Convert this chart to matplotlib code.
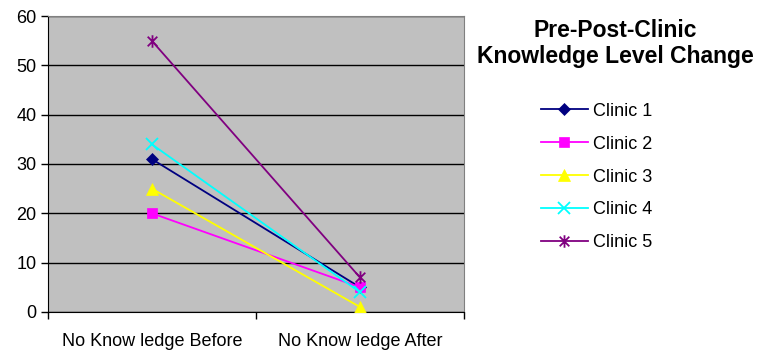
import matplotlib.pyplot as plt
from matplotlib.path import Path

plt.rcParams['font.family'] = ['Liberation Sans', 'DejaVu Sans']

categories = ['No Know ledge Before', 'No Know ledge After']
clinics = ['Clinic 1', 'Clinic 2', 'Clinic 3', 'Clinic 4', 'Clinic 5']
clinic_1 = [31, 5]
clinic_2 = [20, 5]
clinic_3 = [25, 1]
clinic_4 = [34, 4]
clinic_5 = [55, 7]
series = [clinic_1, clinic_2, clinic_3, clinic_4, clinic_5]

colors = ['#000080', '#FF00FF', '#FFFF00', '#00FFFF', '#800080']

# asterisk marker: an x with a vertical stroke through it
star = Path([(-1, -1), (1, 1), (-1, 1), (1, -1), (0, -1.3), (0, 1.3)],
            [Path.MOVETO, Path.LINETO, Path.MOVETO, Path.LINETO, Path.MOVETO, Path.LINETO])
markers = ['D', 's', '^', 'x', star]
sizes = [6, 7, 8, 8, 9]

fig = plt.figure(figsize=(7.58, 3.5), dpi=100)
ax = fig.add_axes([0.063, 0.109, 0.549, 0.845])
ax.set_facecolor('#C0C0C0')

x = list(range(len(categories)))
handles = []
for vals, name, c, m, s in zip(series, clinics, colors, markers, sizes):
    h, = ax.plot(x, vals, color=c, marker=m, markersize=s, linewidth=1.3,
                 markeredgewidth=1.3 if m in ('x',) or m is star else 0.5,
                 label=name, zorder=3)
    handles.append(h)

ax.set_xlim(-0.5, 1.5)
ax.set_ylim(0, 60)
ax.set_yticks(range(0, 61, 10))
ax.yaxis.grid(True, color='black', linewidth=1)
ax.set_axisbelow(True)

ax.set_xticks(x)
ax.set_xticklabels(categories, fontsize=13)
ax.tick_params(axis='x', length=0, pad=15)
ax.set_xticks([-0.5, 0.5, 1.5], minor=True)
ax.tick_params(axis='x', which='minor', length=5, width=1, direction='out')
ax.tick_params(axis='y', labelsize=13, length=5, width=1, direction='out', pad=3)

ax.spines['left'].set_color('black')
ax.spines['bottom'].set_color('black')
ax.spines['top'].set_color('#808080')
ax.spines['right'].set_color('#808080')

fig.text(0.812, 0.876, 'Pre-Post-Clinic\nKnowledge Level Change', ha='center', va='center',
         fontsize=16.5, fontweight='bold', linespacing=1.2)

fig.legend(handles=handles, loc='upper left', bbox_to_anchor=(0.704, 0.727),
           frameon=False, fontsize=13, handlelength=2.6, handletextpad=0.28,
           labelspacing=0.88, borderaxespad=0)

fig.savefig('out.png', dpi=100)
